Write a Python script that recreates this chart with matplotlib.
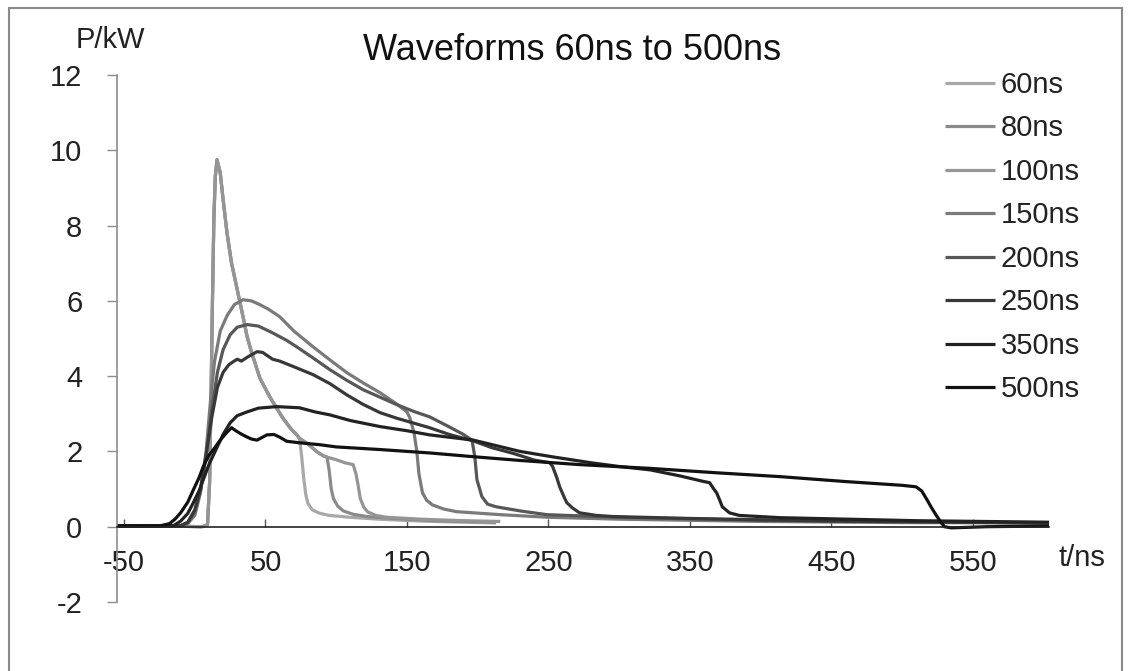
import matplotlib
matplotlib.use("Agg")
import matplotlib.pyplot as plt
from matplotlib.patches import Rectangle

plt.rcParams['font.family'] = ['Liberation Sans', 'DejaVu Sans']
plt.rcParams['axes.unicode_minus'] = False

# 波形数据 (t/ns, P/kW)
t_60 = [-55, -20, 5, 9, 10.5, 11.5, 12.5, 13.5, 14.5, 15.7, 18, 20, 22.8, 26, 30, 34, 37, 40, 46, 53, 62, 68, 72, 74,
        75.5, 77, 78.5, 80, 83, 88, 95, 110, 130, 160, 190, 213]
p_60 = [0.02, 0.02, 0.0, 0.05, 1.2, 3.5, 6.0, 8.2, 9.3, 9.75, 9.4, 8.7, 7.8, 7.0, 6.3, 5.6, 5.05, 4.65, 3.95, 3.45, 2.9,
        2.6, 2.45, 2.35, 1.9, 1.3, 0.85, 0.62, 0.45, 0.36, 0.3, 0.25, 0.2, 0.15, 0.12, 0.1]

t_80 = [-55, -20, 5, 9, 10.5, 11.5, 12.5, 13.5, 14.5, 15.7, 18, 20, 22.8, 26, 30, 34, 37, 40, 46, 53, 62, 68, 72, 74,
        80, 86, 91, 93.5, 95, 96.5, 98, 101, 105, 112, 122, 140, 170, 213]
p_80 = [0.02, 0.02, 0.0, 0.05, 1.2, 3.5, 6.0, 8.2, 9.3, 9.75, 9.4, 8.7, 7.8, 7.0, 6.3, 5.6, 5.05, 4.65, 3.95, 3.45, 2.9,
        2.6, 2.45, 2.35, 2.2, 2.0, 1.88, 1.85, 1.5, 1.0, 0.75, 0.55, 0.42, 0.33, 0.27, 0.22, 0.16, 0.12]

t_100 = [-55, -20, 5, 9, 10.5, 11.5, 12.5, 13.5, 14.5, 15.7, 18, 20, 22.8, 26, 30, 34, 37, 40, 46, 53, 62, 68, 72, 74,
         80, 86, 91, 93.5, 100, 106, 112, 114, 115.5, 117, 119.5, 122, 128, 136, 160, 190, 216]
p_100 = [0.02, 0.02, 0.0, 0.05, 1.2, 3.5, 6.0, 8.2, 9.3, 9.75, 9.4, 8.7, 7.8, 7.0, 6.3, 5.6, 5.05, 4.65, 3.95, 3.45, 2.9,
         2.6, 2.45, 2.35, 2.2, 2.0, 1.88, 1.85, 1.78, 1.7, 1.65, 1.4, 1.1, 0.75, 0.52, 0.4, 0.3, 0.25, 0.2, 0.16, 0.14]

t_150 = [-55, -10, -5, 0, 4, 8, 11, 14, 18, 23, 28, 34, 40, 46, 52, 60, 70, 83.6, 95.6, 107.6, 120, 131, 142, 150,
         152, 155, 157, 158.5, 161, 164, 168, 176, 185, 216, 250, 300, 400, 500, 604]
p_150 = [0.02, 0.02, 0.08, 0.3, 0.9, 2.0, 3.3, 4.4, 5.2, 5.62, 5.9, 6.03, 6.0, 5.9, 5.78, 5.58, 5.2, 4.78, 4.43, 4.09,
         3.8, 3.56, 3.28, 3.05, 2.9, 2.5, 2.0, 1.4, 0.9, 0.7, 0.58, 0.47, 0.4, 0.32, 0.25, 0.2, 0.14, 0.11, 0.1]

t_200 = [-55, -10, -5, 0, 4, 8, 12, 16, 20, 25, 30, 37, 45, 55, 65, 72, 83, 95.6, 107, 119, 131, 143, 155, 166, 180,
         190, 196, 198, 199.5, 203, 207, 213, 230, 249, 300, 400, 500, 604]
p_200 = [0.02, 0.03, 0.1, 0.4, 0.95, 1.9, 3.1, 4.1, 4.7, 5.1, 5.3, 5.37, 5.33, 5.15, 4.95, 4.78, 4.5, 4.17, 3.9, 3.64,
         3.44, 3.24, 3.06, 2.92, 2.65, 2.45, 2.3, 1.86, 1.25, 0.8, 0.6, 0.53, 0.42, 0.32, 0.25, 0.17, 0.13, 0.1]

t_250 = [-55, -10, -5, 0, 4, 8, 12, 16, 20, 24, 27, 30, 33, 37, 44, 48, 55, 60, 70, 83.6, 95.6, 107.6, 119, 131, 143,
         155, 166, 180, 197, 210, 225, 240, 251, 253, 256, 258, 261, 263, 267, 272, 284, 296, 350, 450, 604]
p_250 = [0.02, 0.03, 0.12, 0.45, 1.0, 1.9, 2.9, 3.7, 4.1, 4.3, 4.38, 4.45, 4.4, 4.5, 4.65, 4.63, 4.45, 4.4, 4.25, 4.04,
         3.8, 3.5, 3.25, 3.03, 2.88, 2.75, 2.63, 2.45, 2.28, 2.1, 1.95, 1.77, 1.7, 1.6, 1.3, 1.06, 0.8, 0.64, 0.5,
         0.37, 0.3, 0.27, 0.22, 0.15, 0.1]

t_350 = [-55, -15, -10, -5, -1, 3, 6, 10, 16, 20, 25, 30, 37, 45, 58, 74, 85, 95.6, 110, 131, 150, 166, 197, 230, 254,
         280, 300, 322, 343, 360, 364, 367, 369, 371, 373, 378, 385, 414, 510, 604]
p_350 = [0.02, 0.03, 0.15, 0.35, 0.64, 0.95, 1.25, 1.65, 2.13, 2.45, 2.76, 2.95, 3.05, 3.15, 3.19, 3.16, 3.05, 2.97,
         2.82, 2.66, 2.55, 2.44, 2.3, 2.0, 1.85, 1.7, 1.6, 1.51, 1.35, 1.2, 1.17, 1.0, 0.9, 0.72, 0.53, 0.37, 0.3,
         0.24, 0.16, 0.12]

t_500 = [-55, -25, -18, -14, -10, -5, -1, 3, 6, 10, 13, 17, 20, 23, 26, 29, 32, 36, 40, 44, 48, 51, 56, 60, 65, 74,
         88, 100, 131, 166, 197, 230, 272, 322, 370, 414, 460, 500, 510, 514, 518, 521, 524, 527, 530, 535, 560, 604]
p_500 = [0.02, 0.02, 0.08, 0.2, 0.37, 0.65, 0.98, 1.3, 1.6, 1.9, 2.04, 2.25, 2.39, 2.52, 2.63, 2.55, 2.48, 2.4, 2.33,
         2.3, 2.38, 2.44, 2.45, 2.38, 2.27, 2.23, 2.18, 2.12, 2.05, 1.96, 1.86, 1.76, 1.65, 1.55, 1.43, 1.33, 1.2, 1.1,
         1.06, 0.95, 0.7, 0.5, 0.32, 0.15, 0.0, -0.03, 0.0, 0.02]

labels = ['60ns', '80ns', '100ns', '150ns', '200ns', '250ns', '350ns', '500ns']
series_t = [t_60, t_80, t_100, t_150, t_200, t_250, t_350, t_500]
series_p = [p_60, p_80, p_100, p_150, p_200, p_250, p_350, p_500]
colors = ['#a8a8a8', '#8a8a8a', '#959595', '#7a7a7a', '#575757', '#383838', '#222222', '#111111']

x_ticks = [-50, 50, 150, 250, 350, 450, 550]
y_ticks = [-2, 0, 2, 4, 6, 8, 10, 12]

fig = plt.figure(figsize=(11.29, 6.71), dpi=100)
ax = fig.add_axes([117 / 1129, 1 - 602 / 671, (1049 - 117) / 1129, (602 - 75) / 671])

for t, p, c, lab in zip(series_t, series_p, colors, labels):
    ax.plot(t, p, color=c, lw=2.3, label=lab, solid_capstyle='butt')

ax.set_xlim(-55, 604)
ax.set_ylim(-2, 12)
ax.set_xticks(x_ticks)
ax.set_yticks(y_ticks)

for s in ['top', 'right']:
    ax.spines[s].set_visible(False)
ax.spines['bottom'].set_position(('data', 0))
ax.spines['bottom'].set_color('#222222')
ax.spines['bottom'].set_linewidth(1.2)
ax.spines['left'].set_color('#8c8c8c')
ax.spines['left'].set_linewidth(1.2)

ax.tick_params(axis='x', direction='in', length=6, width=1, color='#555555', pad=16,
               labelsize=21, labelcolor='#222222')
ax.tick_params(axis='y', direction='out', length=7, width=1, color='#8c8c8c', pad=18,
               labelsize=21, labelcolor='#222222')

fig.text(110 / 1129, 1 - 40 / 671, 'P/kW', fontsize=21, color='#222222', ha='center', va='center')
fig.text(1082 / 1129, 1 - 558 / 671, 't/ns', fontsize=21, color='#222222', ha='center', va='center')
fig.text(572 / 1129, 1 - 50 / 671, 'Waveforms 60ns to 500ns', fontsize=26, color='#111111',
         ha='center', va='center')

ax.legend(loc='upper left', bbox_to_anchor=(945 / 1129, 1 - 71 / 671), bbox_transform=fig.transFigure,
          frameon=False, fontsize=21, handlelength=1.7, handletextpad=0.2, labelspacing=0.53,
          borderpad=0, borderaxespad=0, labelcolor='#222222')

# 外边框
fig.patches.append(Rectangle((9 / 1129, -0.05), (1122 - 9) / 1129, 1.05 - 8 / 671, transform=fig.transFigure,
                             fill=False, edgecolor='#8a8a8a', lw=1.5))

fig.savefig('out.png', dpi=100)
